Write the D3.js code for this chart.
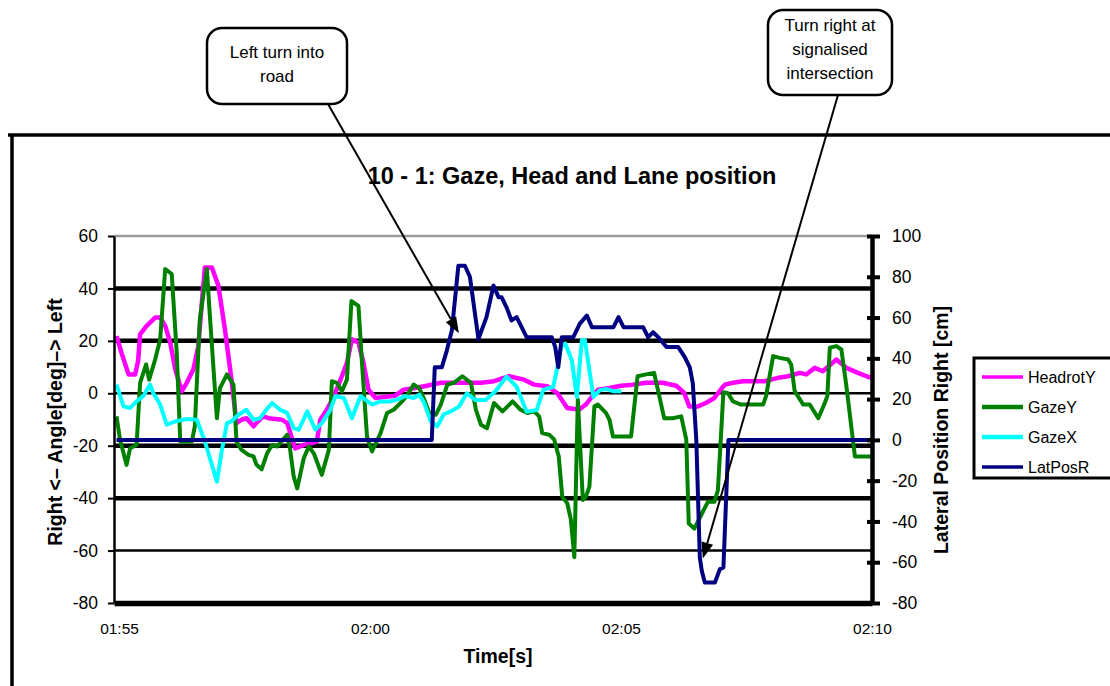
<!DOCTYPE html>
<html>
<head>
<meta charset="utf-8">
<script src="https://cdn.jsdelivr.net/npm/d3@7"></script>
<style>
  html, body { margin: 0; padding: 0; background: #fff; }
  svg { display: block; font-family: Arial, "Liberation Sans", sans-serif; }
</style>
</head>
<body>
<svg id="chart" width="1110" height="686"></svg>
<script>
// Time axis: seconds after 01:55
const timeTicks = [0, 5, 10, 15];
const timeLabels = ["01:55", "02:00", "02:05", "02:10"];
const angleTicks = [60, 40, 20, 0, -20, -40, -60, -80];
const latTicks = [100, 80, 60, 40, 20, 0, -20, -40, -60, -80];
const seriesNames = ["HeadrotY", "GazeY", "GazeX", "LatPosR"];
const seriesColors = ["#ff00ff", "#008000", "#00ffff", "#000080"];

// [time s, angle deg]
const headrotY = [[-0.05,21.8],[0.05,15.4],[0.19,7.2],[0.32,7.2],[0.38,12.3],[0.42,22.5],[0.55,25.7],[0.72,28.9],[0.82,28.9],[0.92,25.7],[1.02,19.3],[1.12,9.1],[1.25,0.8],[1.35,4],[1.48,9.1],[1.58,18],[1.65,34.6],[1.71,48],[1.85,48],[1.98,41],[2.11,24.4],[2.24,5.2],[2.34,-11.4],[2.44,-10.1],[2.54,-9.5],[2.68,-12.6],[2.77,-10.7],[2.87,-8.8],[2.98,-9.5],[3.25,-10.1],[3.35,-11.4],[3.51,-21],[3.68,-19.7],[3.84,-19],[3.94,-18.4],[4.01,-10.1],[4.14,-6.3],[4.28,-1.1],[4.44,6.5],[4.54,11.6],[4.64,20.6],[4.77,19.3],[4.87,11.6],[4.97,1.4],[5.11,-1.8],[5.5,-0.9],[5.67,1.4],[5.9,2],[6.08,2.7],[6.41,4],[6.67,4],[6.94,4],[7.21,4],[7.47,4.6],[7.77,6.5],[8.07,5.2],[8.27,3.3],[8.53,2.7],[8.73,0.1],[8.93,-5.6],[9.17,-6.2],[9.3,-4.3],[9.4,-1.8],[9.54,1.4],[9.77,2],[10,2.9],[10.23,3.3],[10.5,4],[10.83,4],[11.1,2.9],[11.26,0.1],[11.36,-5],[11.53,-5],[11.69,-3.7],[11.86,-1.8],[12.01,2],[12.07,3.3],[12.23,4],[12.43,4.6],[12.86,4.6],[13.13,5.9],[13.33,6.5],[13.56,7.8],[13.69,7.2],[13.86,9.7],[14.02,8.4],[14.29,12.9],[14.49,9.7],[14.72,7.8],[14.89,6.5],[14.99,5.9]];

const gazeY = [[-0.05,-8.8],[0.02,-17.7],[0.15,-27.3],[0.22,-21],[0.35,-19.7],[0.42,4],[0.54,11],[0.6,5.2],[0.72,12.9],[0.82,20.6],[0.92,47.4],[1.05,45.5],[1.15,15.4],[1.22,-18.4],[1.45,-18.4],[1.51,-12.6],[1.61,28.2],[1.75,47.4],[1.81,29.5],[1.95,-9.5],[2.01,2],[2.15,7.2],[2.28,3.3],[2.34,-18.4],[2.44,-21.6],[2.58,-23.5],[2.68,-24.1],[2.74,-27.3],[2.84,-29],[2.95,-22.9],[3.05,-19.7],[3.15,-20.3],[3.35,-15.8],[3.41,-21.6],[3.48,-31.8],[3.55,-36.3],[3.68,-24.8],[3.78,-20.3],[3.88,-22.9],[4.04,-31.1],[4.18,-21.6],[4.24,4.6],[4.34,4],[4.44,0.8],[4.54,5.2],[4.63,35.2],[4.77,33.3],[4.84,11.6],[4.94,-16.5],[5.04,-22.2],[5.21,-15.2],[5.34,-7.5],[5.47,-6.3],[5.64,-3.1],[5.77,0.1],[5.87,3.3],[5.98,2],[6.08,-2.4],[6.18,-7.5],[6.31,-8.2],[6.41,-4.3],[6.54,3.3],[6.67,4],[6.84,6.5],[7.01,4],[7.11,-6.3],[7.21,-12],[7.33,-13.3],[7.47,-3.7],[7.64,-6.9],[7.84,-3.1],[8,-6.3],[8.13,-7.5],[8.27,-6.9],[8.37,-8.8],[8.43,-15.2],[8.57,-15.8],[8.67,-17.7],[8.76,-24.1],[8.83,-39.5],[8.93,-42],[9.0,-48],[9.07,-62.5],[9.14,-2.4],[9.24,-40.7],[9.3,-39.5],[9.37,-35.6],[9.47,-5],[9.54,-4.3],[9.7,-7.5],[9.77,-10.1],[9.84,-16.5],[10.2,-16.5],[10.33,6.5],[10.5,7.2],[10.66,7.8],[10.86,-9.5],[11.03,-9.5],[11.2,-8.8],[11.3,-17.7],[11.35,-49.7],[11.46,-51.6],[11.63,-45.2],[11.73,-41.4],[11.86,-41.4],[11.93,-37],[12.04,0.4],[12.13,0],[12.23,-3.1],[12.39,-4.3],[12.83,-4.3],[12.89,-1.1],[13.03,14.2],[13.16,13.5],[13.33,12.9],[13.39,11],[13.46,0.8],[13.63,-4.3],[13.76,-4.3],[13.93,-9.5],[14.06,-3.7],[14.11,-1.1],[14.16,17.4],[14.29,18],[14.39,16.7],[14.49,2.7],[14.66,-24.1],[14.99,-24.1]];

const gazeX = [[-0.05,3.3],[0.09,-5],[0.22,-5.6],[0.35,-3.1],[0.48,-1.1],[0.62,3.3],[0.68,0.1],[0.82,-4.3],[0.95,-12],[1.12,-10.7],[1.35,-9.8],[1.55,-10.1],[1.71,-18.4],[1.95,-33.7],[2.05,-21.6],[2.15,-11.4],[2.24,-10.7],[2.38,-8.2],[2.54,-6.3],[2.68,-10.1],[2.81,-9.5],[2.93,-6.3],[3.05,-3.7],[3.21,-6.3],[3.35,-7.5],[3.48,-13.3],[3.58,-13.9],[3.75,-6.9],[3.91,-13.9],[4.04,-11.4],[4.21,-6.3],[4.31,-1.1],[4.48,-1.8],[4.64,-9.5],[4.81,-1.1],[5.04,-4.3],[5.21,-3.1],[5.4,-3.1],[5.54,-2.4],[5.7,-1.1],[5.87,-1.8],[5.98,-0.5],[6.08,-3.7],[6.21,-10.7],[6.34,-12.6],[6.47,-8],[6.61,-6.9],[6.77,-5.1],[6.93,0],[7.1,-2.6],[7.3,-2.6],[7.5,0.8],[7.72,6.4],[7.92,2.5],[8.12,-7],[8.32,-6.4],[8.45,1.3],[8.65,2.5],[8.72,8.8],[8.82,18.4],[8.89,19],[9.02,12.6],[9.12,-1.4],[9.22,20.3],[9.28,20.3],[9.45,-1.4],[9.58,1.2],[9.72,1.6],[9.84,0.8],[10.01,0.8]];

// [time s, lateral position cm]
const latPosR = [[-0.05,0],[6.23,0],[6.29,35.6],[6.43,35.6],[6.53,43.8],[6.63,53.6],[6.76,85.4],[6.89,85.4],[6.99,80],[7.16,49.5],[7.32,60.2],[7.46,75.7],[7.56,70],[7.62,70],[7.72,65],[7.82,58.6],[7.92,60.2],[8.12,50.4],[8.62,50.4],[8.69,45.5],[8.75,35.6],[8.82,50.4],[9.05,50.4],[9.18,57],[9.32,61],[9.42,55.3],[9.85,55.3],[9.95,60.2],[10.05,55.3],[10.44,55.3],[10.54,50.4],[10.64,52.8],[10.74,50.4],[10.91,45.5],[11.14,45.5],[11.27,40.6],[11.37,35.6],[11.43,27.8],[11.5,0],[11.57,-57.7],[11.61,-64.3],[11.67,-70],[11.87,-70],[11.97,-63.4],[12.04,-62.6],[12.14,0],[14.99,0]];

// Callout annotations: text lines, box (px) and arrow tip in data units (time s, angle deg)
const calloutLines = [["Left turn into", "road"], ["Turn right at", "signalised", "intersection"]];
const calloutTips = [[6.77, 22.9], [11.63, -63]];

const svg = d3.select("#chart");
svg.append("rect").attr("width", 1110).attr("height", 686).attr("fill", "#fff");

const plot = { left: 114, right: 872, top: 236, bottom: 603 };
const x = d3.scaleLinear().domain([-0.1, 15]).range([plot.left, plot.right]);
const yL = d3.scaleLinear().domain([-80, 60]).range([plot.bottom, plot.top]);
const yR = d3.scaleLinear().domain([-80, 100]).range([plot.bottom, plot.top]);
const FONT = "Arial, 'Liberation Sans', sans-serif";

// outer frame
svg.append("line").attr("x1", 8).attr("x2", 1112).attr("y1", 135).attr("y2", 135)
  .attr("stroke", "#000").attr("stroke-width", 3.5);
svg.append("line").attr("x1", 12).attr("x2", 12).attr("y1", 134).attr("y2", 690)
  .attr("stroke", "#000").attr("stroke-width", 3.5);

// title
svg.append("text").attr("x", 572).attr("y", 184).attr("text-anchor", "middle")
  .attr("font-weight", "bold").attr("font-size", 23.5).attr("fill", "#000")
  .text("10 - 1: Gaze, Head and Lane position");

// horizontal gridlines
const gridStyle = v => {
  if (v === 60) return { c: "#9a9a9a", w: 2.5 };
  if (v === 0 || v === -60) return { c: "#000", w: 2.5 };
  return { c: "#000", w: 4.5 };
};
svg.append("g").selectAll("line")
  .data(angleTicks.filter(v => v !== -80))
  .join("line")
  .attr("x1", plot.left).attr("x2", plot.right)
  .attr("y1", d => yL(d)).attr("y2", d => yL(d))
  .attr("stroke", d => gridStyle(d).c)
  .attr("stroke-width", d => gridStyle(d).w);

// series
const seriesData = [headrotY, gazeY, gazeX, latPosR];
const seriesWidth = [4.5, 4, 4, 4];
const lineL = d3.line().x(d => x(d[0])).y(d => yL(d[1]));
const lineR = d3.line().x(d => x(d[0])).y(d => yR(d[1]));
const gS = svg.append("g");
seriesData.forEach((data, i) => {
  gS.append("path")
    .attr("d", i === 3 ? lineR(data) : lineL(data))
    .attr("fill", "none")
    .attr("stroke", seriesColors[i])
    .attr("stroke-width", seriesWidth[i])
    .attr("stroke-linejoin", "round");
});

// left axis
const axL = svg.append("g").attr("transform", `translate(${plot.left},0)`)
  .call(d3.axisLeft(yL).tickValues(angleTicks).tickSize(6).tickSizeOuter(0).tickPadding(10)
    .tickFormat(d => String(d)));
axL.select(".domain").attr("stroke", "#000").attr("stroke-width", 2.5);
axL.selectAll(".tick line").attr("stroke", "#000").attr("stroke-width", 2);
axL.selectAll("text").attr("font-size", 17.5).attr("fill", "#000").attr("font-family", FONT);

// right axis
const axR = svg.append("g").attr("transform", `translate(${plot.right},0)`)
  .call(d3.axisRight(yR).tickValues(latTicks).tickSize(8).tickSizeOuter(0).tickPadding(12)
    .tickFormat(d => String(d)));
axR.select(".domain").attr("stroke", "#000").attr("stroke-width", 4.5);
axR.selectAll(".tick line").attr("x1", -5).attr("stroke", "#000").attr("stroke-width", 4);
axR.selectAll("text").attr("font-size", 17.5).attr("fill", "#000").attr("font-family", FONT);

// bottom axis
const axB = svg.append("g").attr("transform", `translate(0,${plot.bottom})`)
  .call(d3.axisBottom(x).tickValues(timeTicks).tickSize(0).tickSizeOuter(0).tickPadding(20)
    .tickFormat((d, i) => timeLabels[i]));
axB.select(".domain").attr("stroke", "#000").attr("stroke-width", 5.5);
axB.selectAll("text").attr("font-size", 15.5).attr("fill", "#000").attr("font-family", FONT);

// axis titles
svg.append("text").attr("transform", "translate(62,422) rotate(-90)")
  .attr("text-anchor", "middle").attr("font-weight", "bold").attr("font-size", 19.5)
  .text("Right <\u2013 Angle[deg]\u2013>  Left");
svg.append("text").attr("transform", "translate(948,430) rotate(-90)")
  .attr("text-anchor", "middle").attr("font-weight", "bold").attr("font-size", 19.5)
  .text("Lateral Position Right  [cm]");
svg.append("text").attr("x", 498).attr("y", 663).attr("text-anchor", "middle")
  .attr("font-weight", "bold").attr("font-size", 19.5).text("Time[s]");

// legend
const lg = svg.append("g").attr("transform", "translate(974,358)");
lg.append("rect").attr("width", 150).attr("height", 120)
  .attr("fill", "#fff").attr("stroke", "#000").attr("stroke-width", 3);
seriesNames.forEach((name, i) => {
  const yy = 19 + i * 30;
  lg.append("line").attr("x1", 8).attr("x2", 49).attr("y1", yy).attr("y2", yy)
    .attr("stroke", seriesColors[i]).attr("stroke-width", i === 0 || i === 3 ? 3.5 : 4.5);
  lg.append("text").attr("x", 54).attr("y", yy + 6).attr("font-size", 16).text(name);
});

// callouts
const boxes = [
  { x: 207, y: 28, w: 140, h: 76, sx: 328, sy: 104, ty: 58, lh: 24 },
  { x: 768, y: 10, w: 124, h: 85, sx: 838, sy: 95, ty: 31, lh: 24 }
];
const gC = svg.append("g");
boxes.forEach((b, i) => {
  gC.append("rect").attr("x", b.x).attr("y", b.y).attr("width", b.w).attr("height", b.h)
    .attr("rx", 15).attr("fill", "#fff").attr("stroke", "#000").attr("stroke-width", 2.5);
  calloutLines[i].forEach((t, k) => {
    gC.append("text").attr("x", b.x + b.w / 2).attr("y", b.ty + k * b.lh)
      .attr("text-anchor", "middle").attr("font-size", 17).text(t);
  });
  const tx = x(calloutTips[i][0]), ty = yL(calloutTips[i][1]);
  const ang = Math.atan2(ty - b.sy, tx - b.sx);
  const L = 16, W = 6;
  const bx = tx - L * Math.cos(ang), by = ty - L * Math.sin(ang);
  gC.append("line").attr("x1", b.sx).attr("y1", b.sy).attr("x2", bx).attr("y2", by)
    .attr("stroke", "#000").attr("stroke-width", 2);
  const px = -Math.sin(ang) * W, py = Math.cos(ang) * W;
  gC.append("path")
    .attr("d", `M${tx},${ty}L${bx + px},${by + py}L${bx - px},${by - py}Z`)
    .attr("fill", "#000");
});
</script>
</body>
</html>
